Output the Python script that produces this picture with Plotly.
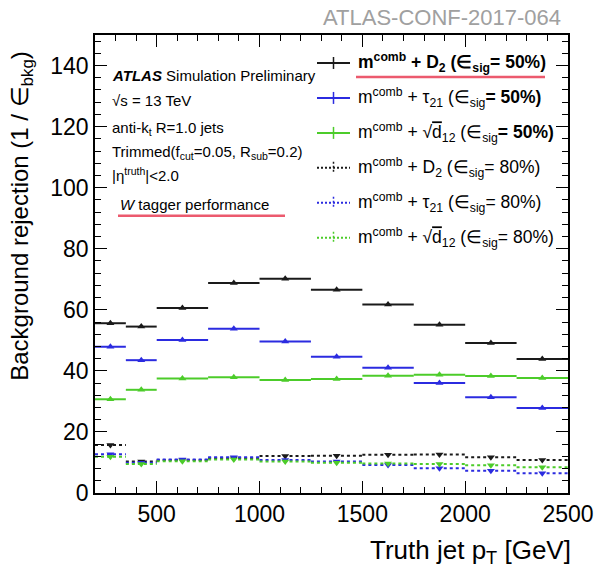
import plotly.graph_objects as go

# Truth jet pT binning [GeV]
bin_edges = [200, 350, 500, 750, 1000, 1250, 1500, 1750, 2000, 2250, 2500]

# Background rejection (1 / eps_bkg) per pT bin
rej_d2_50 = [55.6, 54.5, 60.6, 68.8, 70.2, 66.6, 61.7, 55.1, 49.1, 43.9]
rej_tau21_50 = [47.9, 43.5, 50.1, 53.8, 49.6, 44.6, 41.0, 36.0, 31.4, 27.8]
rej_d12_50 = [30.7, 33.8, 37.5, 37.9, 37.0, 37.3, 38.4, 38.7, 38.3, 37.7]
rej_d2_80 = [15.7, 10.3, 10.8, 11.4, 12.1, 12.2, 12.5, 12.6, 11.7, 10.8]
rej_tau21_80 = [12.7, 9.9, 11.0, 11.7, 10.8, 10.3, 9.2, 8.1, 7.3, 6.5]
rej_d12_80 = [11.9, 9.5, 10.4, 11.0, 10.3, 9.9, 9.7, 9.5, 9.1, 8.4]

SQRT_D12 = "√<span style='text-decoration:overline'>d</span><sub>12</sub>"
legend_labels = [
    "<b>m<sup>comb</sup> + D<sub>2</sub> (∈<sub>sig</sub>= 50%)</b>",
    "m<sup>comb</sup> + τ<sub>21</sub> (∈<sub>sig</sub><b>= 50%)</b>",
    "m<sup>comb</sup> + " + SQRT_D12 + " (∈<sub>sig</sub><b>= 50%)</b>",
    "m<sup>comb</sup> + D<sub>2</sub> (∈<sub>sig</sub>= 80%)",
    "m<sup>comb</sup> + τ<sub>21</sub> (∈<sub>sig</sub>= 80%)",
    "m<sup>comb</sup> + " + SQRT_D12 + " (∈<sub>sig</sub>= 80%)",
]

BLACK = "#1a1a1a"
BLUE = "#2b2be0"
GREEN = "#4ccc2a"

series = [
    (rej_d2_50, BLACK, "solid", "triangle-up"),
    (rej_tau21_50, BLUE, "solid", "triangle-up"),
    (rej_d12_50, GREEN, "solid", "triangle-up"),
    (rej_d2_80, BLACK, "3px,3px", "triangle-down"),
    (rej_tau21_80, BLUE, "3px,3px", "triangle-down"),
    (rej_d12_80, GREEN, "3px,3px", "triangle-down"),
]

centers = [(lo + hi) / 2 for lo, hi in zip(bin_edges[:-1], bin_edges[1:])]

fig = go.Figure()

# draw dashed (80%) sets first so the 50% sets sit on top
for values, color, dash, symbol in series[3:] + series[:3]:
    seg_x, seg_y = [], []
    for lo, hi, v in zip(bin_edges[:-1], bin_edges[1:], values):
        seg_x += [lo, hi, None]
        seg_y += [v, v, None]
    fig.add_trace(go.Scatter(
        x=seg_x, y=seg_y, mode="lines",
        line=dict(color=color, width=2, dash=dash),
        showlegend=False, hoverinfo="skip",
    ))
    fig.add_trace(go.Scatter(
        x=centers, y=values, mode="markers",
        marker=dict(symbol=symbol, size=7, color=color),
        showlegend=False,
    ))

FONT = "Liberation Sans, Arial, sans-serif"

# plot-area geometry in pixels (used to place the legend and labels)
L, R, T, B = 95, 568, 35, 493.5
W, H = R - L, B - T


def px(x):
    return (x - L) / W


def py(y):
    return (B - y) / H


annotations = []
shapes = []

# hand-drawn legend, ROOT style
legend_rows = [63, 98, 133, 168, 203, 238]
for (values, color, dash, symbol), label, yrow in zip(series, legend_labels, legend_rows):
    shapes.append(dict(type="line", xref="paper", yref="paper",
                       x0=px(317), x1=px(350), y0=py(yrow), y1=py(yrow),
                       line=dict(color=color, width=2, dash=("solid" if dash == "solid" else "2px,2px"))))
    shapes.append(dict(type="line", xref="paper", yref="paper",
                       x0=px(333.5), x1=px(333.5), y0=py(yrow - 6), y1=py(yrow + 6),
                       line=dict(color=color, width=1.5, dash=("solid" if dash == "solid" else "2px,2px"))))
    annotations.append(dict(text=label, xref="paper", yref="paper",
                            x=px(356), y=py(yrow), xanchor="left", yanchor="middle",
                            showarrow=False, font=dict(family=FONT, size=17.5, color="black")))

# red highlight lines
shapes.append(dict(type="line", xref="paper", yref="paper",
                   x0=px(356), x1=px(545), y0=py(77), y1=py(77),
                   line=dict(color="#ec5a6e", width=2.5)))
shapes.append(dict(type="line", xref="paper", yref="paper",
                   x0=px(118), x1=px(285), y0=py(216), y1=py(216),
                   line=dict(color="#ec5a6e", width=2.5)))

info_lines = [
    ("<b><i>ATLAS</i></b> Simulation Preliminary", 110, 76),
    ("√s = 13 TeV", 110, 101),
    ("anti-k<sub>t</sub> R=1.0 jets", 110, 129),
    ("Trimmed(f<sub>cut</sub>=0.05, R<sub>sub</sub>=0.2)", 110, 153),
    ("|η<sup>truth</sup>|&lt;2.0", 110, 175),
    ("<i>W</i> tagger performance", 118, 205),
]
for text, x, y in info_lines:
    annotations.append(dict(text=text, xref="paper", yref="paper",
                            x=px(x), y=py(y), xanchor="left", yanchor="middle",
                            showarrow=False, font=dict(family=FONT, size=15, color="black")))

annotations.append(dict(text="ATLAS-CONF-2017-064", xref="paper", yref="paper",
                        x=px(563), y=py(17), xanchor="right", yanchor="middle",
                        showarrow=False, font=dict(family=FONT, size=22, color="#a0a0a0")))
annotations.append(dict(text="Truth jet p<sub>T</sub> [GeV]", xref="paper", yref="paper",
                        x=px(573), y=py(552), xanchor="right", yanchor="middle",
                        showarrow=False, font=dict(family=FONT, size=26, color="black")))
annotations.append(dict(text="Background rejection (1 / ∈<sub>bkg</sub>)", xref="paper", yref="paper",
                        x=px(22), y=py(216), xanchor="center", yanchor="middle", textangle=-90,
                        showarrow=False, font=dict(family=FONT, size=24, color="black")))

axis_common = dict(
    showgrid=False, zeroline=False, showline=True, linecolor="black", linewidth=1.5,
    mirror="allticks", ticks="inside", ticklen=12, tickwidth=1.2, tickcolor="black",
    tickfont=dict(family=FONT, size=23, color="black"), automargin=False,
)

fig.update_layout(
    width=596, height=572,
    margin=dict(l=L, r=596 - R, t=T, b=572 - B),
    paper_bgcolor="white", plot_bgcolor="white",
    xaxis=dict(range=[200, 2500], tick0=0, dtick=500,
               minor=dict(ticks="inside", ticklen=6, dtick=100, tick0=0, tickcolor="black", showgrid=False),
               **axis_common),
    yaxis=dict(range=[0, 150], tick0=0, dtick=20,
               minor=dict(ticks="inside", ticklen=6, dtick=4, tick0=0, tickcolor="black", showgrid=False),
               **axis_common),
    annotations=annotations,
    shapes=shapes,
    showlegend=False,
)

fig.write_html("out.html")
